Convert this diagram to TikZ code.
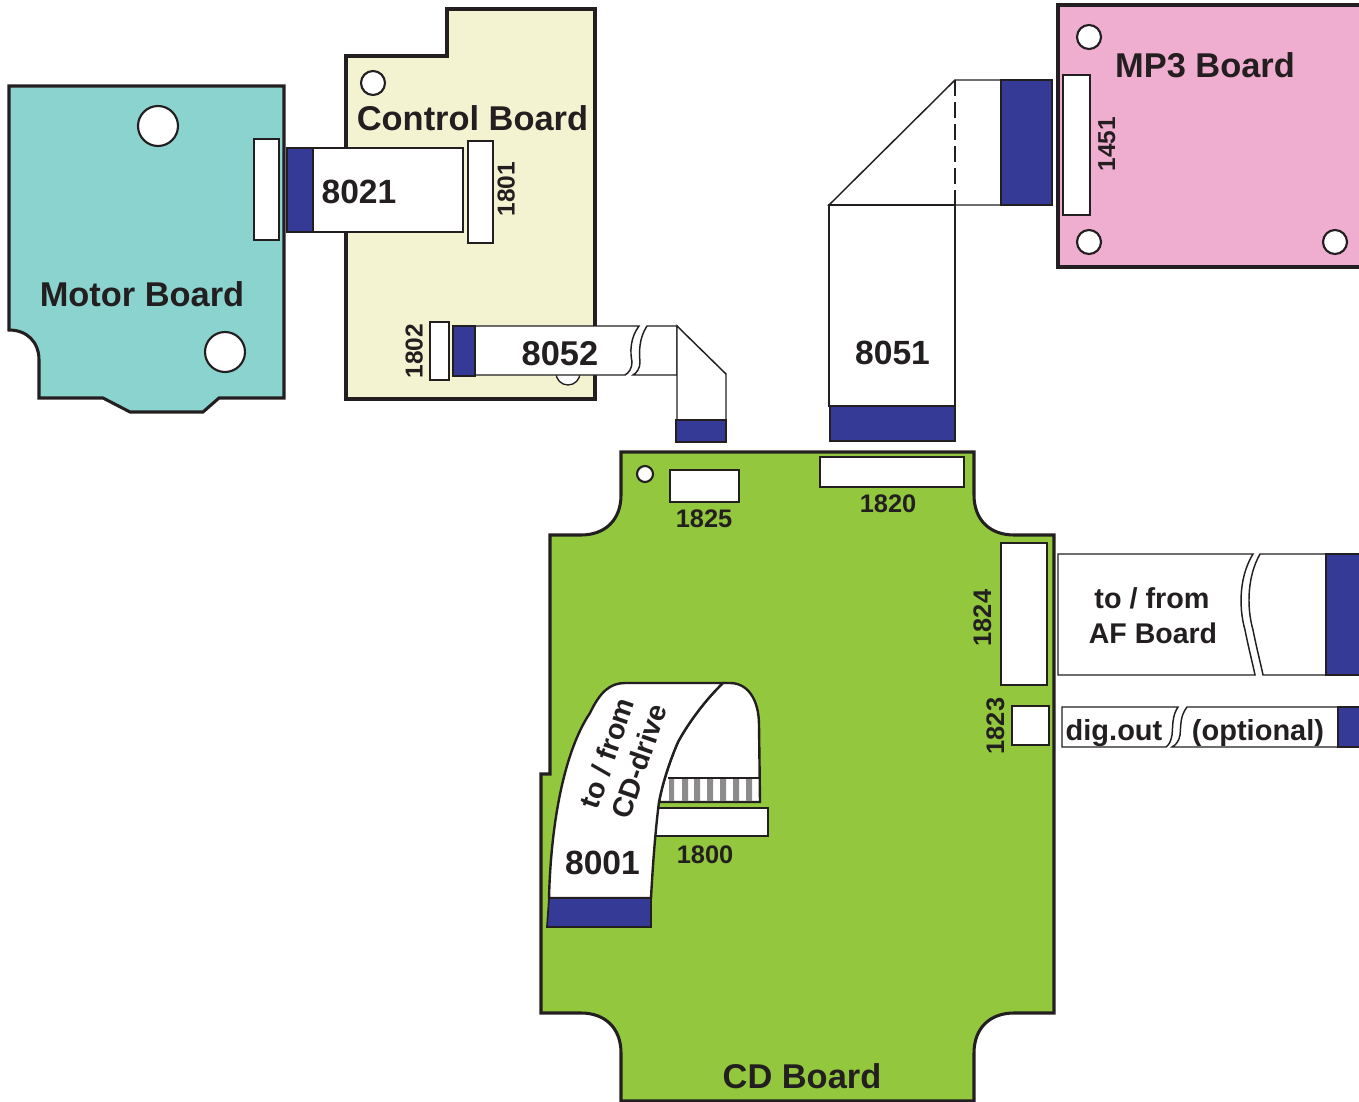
\documentclass[tikz,border=0pt]{standalone}
\usepackage{fontspec}
\setmainfont{Liberation Sans}
\definecolor{teal1}{HTML}{8BD3CE}
\definecolor{cream1}{HTML}{F3F3D2}
\definecolor{pink1}{HTML}{EFADCF}
\definecolor{green1}{HTML}{93C83E}
\definecolor{blue1}{HTML}{343A95}
\definecolor{ink}{HTML}{231F20}
\newcommand{\fz}[1]{\pgfmathparse{#1*0.75}\fontsize{\pgfmathresult}{\pgfmathresult}\selectfont}
\tikzset{
  board/.style={draw=ink,line width=2.3pt,line join=miter},
  hole/.style={draw=ink,fill=white,line width=1.6pt},
  sock/.style={draw=ink,fill=white,line width=1pt},
  flex/.style={draw=ink,fill=white,line width=1.1pt},
  tab/.style={draw=ink,fill=blue1,line width=1.3pt},
  lab/.style={text=ink,inner sep=0pt,anchor=base,font=\bfseries},
}
\begin{document}
\begin{tikzpicture}[x=0.75pt,y=-0.75pt]
\clip (0,0) rectangle (1359,1102);
% Motor board
\draw[board,fill=teal1] (9,86) -- (284,86) -- (284,398) -- (219,398) -- (203,412) -- (130,412) -- (103,398) -- (39,398) -- (39,360) .. controls (39,342) and (27,330) .. (9,330) -- cycle;
\draw[hole] (158,126) circle[radius=20];
\draw[hole] (225,352) circle[radius=20];
\draw[sock] (254,139) rectangle (279,240);
% Control board
\draw[board,fill=cream1] (346,56) -- (447,56) -- (447,9) -- (595,9) -- (595,399) -- (346,399) -- cycle;
\draw[hole] (373,83) circle[radius=12];
\draw[sock] (568,373) circle[radius=12];
\draw[sock] (468,141) rectangle (493,243);
\draw[sock] (430,322) rectangle (449,380);
% 8021
\draw[flex] (313,148) rectangle (463,232);
\draw[tab] (287,148) rectangle (313,232);
% 8052
\draw[flex] (475,326) -- (639,326) .. controls (630,338) and (630,352) .. (632,362) .. controls (632,368) and (629,373) .. (625,375) -- (475,375) -- cycle;
\draw[tab] (453,326) rectangle (475,376);
\draw[flex] (647,326) .. controls (639,338) and (639,352) .. (640,362) .. controls (640,368) and (637,373) .. (633,375) -- (677,375) -- (677,326) -- cycle;
\draw[flex] (677,326) -- (726,374) -- (726,420) -- (677,420) -- cycle;
\draw[tab] (676,420) rectangle (726,442);
% MP3 board
\draw[board,fill=pink1] (1058,5) -- (1375,5) -- (1375,267) -- (1058,267) -- cycle;
\draw[hole] (1089,37) circle[radius=12];
\draw[hole] (1089,242) circle[radius=12];
\draw[hole] (1335,242) circle[radius=12];
\draw[sock] (1063,75) rectangle (1090,215);
% 8051
\draw[flex] (955,80) -- (1001,80) -- (1001,205) -- (829,205) -- cycle;
\draw[flex,dash pattern=on 12pt off 4.5pt] (955,80) -- (955,205);
\draw[flex] (829,205) rectangle (955,406);
\draw[tab] (1001,80) rectangle (1052,205);
\draw[tab] (830,406) rectangle (955,441);
% CD board
\draw[board,fill=green1] (621,452) -- (974,452) -- (974,495) .. controls (974,520) and (990,535) .. (1014,535) -- (1054,535) -- (1054,1013) -- (1014,1013) .. controls (990,1013) and (974,1028) .. (974,1053) -- (974,1101) -- (621,1101) -- (621,1053) .. controls (621,1028) and (605,1013) .. (581,1013) -- (541,1013) -- (541,774) -- (550,774) -- (550,535) -- (581,535) .. controls (605,535) and (621,520) .. (621,495) -- cycle;
\draw[hole] (645,474) circle[radius=8];
\draw[sock] (670,470) rectangle (739,502);
\draw[sock] (820,457) rectangle (964,487);
\draw[sock] (1001,543) rectangle (1047,685);
\draw[sock] (1012,706) rectangle (1049,745);
\draw[sock] (650,808) rectangle (768,836);
% 8001
\draw[flex,line width=1.8pt] (723,683) -- (730,683) .. controls (748,683) and (759,700) .. (759,725) -- (760,802) -- (659,802) .. controls (662,785) and (670,760) .. (678,742) .. controls (687,725) and (705,700) .. (723,683) -- cycle;
\fill[gray!90] (669,779) rectangle (674,801) (682,779) rectangle (688,801) (694,779) rectangle (700,801) (707,779) rectangle (713,801) (720,779) rectangle (726,801) (733,779) rectangle (739,801) (746,779) rectangle (752,801);
\draw[ink,line width=0.9pt] (668,778) -- (759,778);
\draw[flex,line width=1.8pt] (549,898) .. controls (551,820) and (565,750) .. (590,713) .. controls (600,692) and (610,683) .. (625,683) -- (723,683) .. controls (705,700) and (687,725) .. (678,742) .. controls (670,760) and (662,785) .. (659,802) .. controls (656,825) and (653,860) .. (651,898) -- cycle;
\draw[tab] (549,898) -- (651,898) -- (651,927) -- (547,927) -- cycle;
% AF cable
\draw[flex] (1058,554) -- (1253,554) .. controls (1240,575) and (1238,605) .. (1245,630) .. controls (1249,650) and (1253,665) .. (1255,675) -- (1058,675) -- cycle;
\draw[flex] (1260,554) -- (1330,554) -- (1330,675) -- (1263,675) .. controls (1261,665) and (1257,650) .. (1253,630) .. controls (1246,605) and (1248,575) .. (1260,554) -- cycle;
\draw[tab] (1326,554) rectangle (1375,675);
% dig out cable
\draw[flex] (1062,707) -- (1178,707) .. controls (1172,716) and (1173,725) .. (1172,735) .. controls (1171,741) and (1169,745) .. (1166,747) -- (1062,747) -- cycle;
\draw[flex] (1187,707) -- (1340,707) -- (1340,747) -- (1172,747) .. controls (1176,745) and (1179,741) .. (1180,735) .. controls (1181,725) and (1180,716) .. (1187,707) -- cycle;
\draw[tab] (1338,707) rectangle (1375,747);
% Labels
\node[lab] (motor) at (142,306) {\fz{34.4}Motor Board};
\node[lab] (control) at (472.5,131) {\fz{34.4}Control Board};
\node[lab] (mp3) at (1205,78) {\fz{34.4}MP3 Board};
\node[lab] (cd) at (802,1088) {\fz{34.4}CD Board};
\node[lab] (c8021) at (359,203) {\fz{33.6}8021};
\node[lab] (c8052) at (560,365) {\fz{34.4}8052};
\node[lab] (c8051) at (892.5,364.5) {\fz{33.6}8051};
\node[lab] (c8001) at (602.5,874.5) {\fz{33.6}8001};
\node[lab] (s1825) at (704,527) {\fz{25.4}1825};
\node[lab] (s1820) at (888,512) {\fz{25.4}1820};
\node[lab] (s1800) at (705,863) {\fz{25.4}1800};
\node[lab,rotate=90] (s1801) at (514.5,189) {\fz{24.5}1801};
\node[lab,rotate=90] (s1802) at (422.5,351) {\fz{24.5}1802};
\node[lab,rotate=90] (s1451) at (1115,144) {\fz{24.5}1451};
\node[lab,rotate=90] (s1824) at (991,618) {\fz{25.4}1824};
\node[lab,rotate=90] (s1823) at (1004,726) {\fz{25.4}1823};
\node[lab] (af1) at (1152,608) {\fz{28.8}to / from};
\node[lab] (af2) at (1153,643) {\fz{28.5}AF Board};
\node[lab] (dig) at (1114,740.5) {\fz{29}dig.out};
\node[lab] (opt) at (1258,740.5) {\fz{29}(optional)};
\node[lab,anchor=center,rotate=71] (cd1) at (607,753) {\fz{28.5}to / from};
\node[lab,anchor=center,rotate=71] (cd2) at (639,761) {\fz{28.5}CD-drive};
\end{tikzpicture}
\end{document}
